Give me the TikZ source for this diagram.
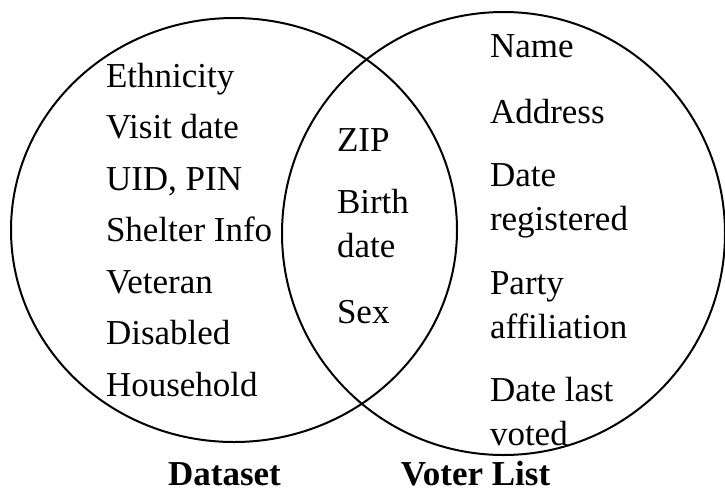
\documentclass[tikz,border=0pt]{standalone}
\usepackage{fontspec}
\setmainfont{Liberation Serif}
\usetikzlibrary{shapes.geometric}

\begin{document}
\begin{tikzpicture}[x=1pt, y=-1pt,
    every node/.style={font=\fontsize{35}{44}\selectfont, inner sep=0pt, outer sep=0pt},
    venn/.style={draw, ellipse, line width=2pt},
    item/.style={anchor=base west, align=left},
    setlabel/.style={anchor=base, font=\fontsize{35}{44}\selectfont\bfseries}]
    \useasboundingbox (0,0) rectangle (725,491);

    % The two sets
    \node[venn, minimum width=446pt, minimum height=424pt] (dataset) at (234,230) {};
    \node[venn, minimum width=443pt, minimum height=443pt] (voters) at (503.5,233.5) {};

    % Only in the dataset
    \foreach \t [count=\i] in {Ethnicity, Visit date, {UID, PIN}, Shelter Info, Veteran, Disabled, Household} {
        \node[item] (d\i) at (106,{87+51.5*(\i-1)}) {\t};
    }

    % Shared fields (base = last line)
    \node[item] (zip) at (337,151) {ZIP};
    \node[item] (birth) at (337,257) {Birth\\date};
    \node[item] (sex) at (337,323) {Sex};

    % Only in the voter list
    \node[item] (name) at (490,57) {Name};
    \node[item] (address) at (490,123) {Address};
    \node[item] (registered) at (490,230) {Date\\registered};
    \node[item] (party) at (490,338) {Party\\affiliation};
    \node[item] (voted) at (490,445) {Date last\\voted};

    % Set names
    \node[setlabel] (dlabel) at (224.5,485) {Dataset};
    \node[setlabel] (vlabel) at (475.5,485) {Voter List};
\end{tikzpicture}
\end{document}
